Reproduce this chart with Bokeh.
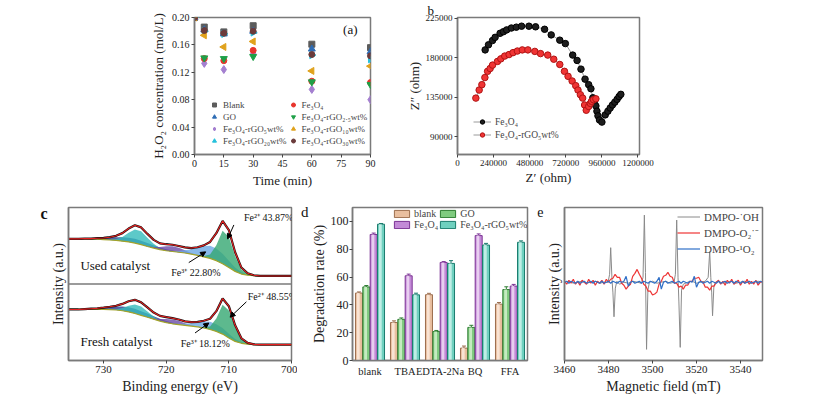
import numpy as np
from bokeh.plotting import figure
from bokeh.layouts import row, column
from bokeh.models import (Range1d, FactorRange, FixedTicker, NumeralTickFormatter, Legend, LegendItem,
                          Label, Arrow, NormalHead, Span, Whisker, TeeHead, ColumnDataSource,
                          LinearAxis, Title)
from bokeh.transform import dodge
from bokeh.embed import file_html
from bokeh.resources import INLINE

FONT = "Liberation Serif"

# ---------------- panel a data ----------------
times = [0, 5, 15, 30, 60, 90]
h_blank = [0.200, 0.186, 0.179, 0.188, 0.161, 0.156]
h_go = [0.200, 0.182, 0.176, 0.180, 0.154, 0.150]
h_rgo5 = [0.200, 0.133, 0.124, 0.147, 0.095, 0.080]
h_fe3o4 = [0.200, 0.140, 0.137, 0.152, 0.107, 0.105]
h_rgo25 = [0.200, 0.141, 0.140, 0.143, 0.106, 0.102]
h_rgo10 = [0.200, 0.174, 0.157, 0.165, 0.122, 0.129]
h_rgo20 = [0.200, 0.180, 0.176, 0.178, 0.145, 0.139]
h_rgo30 = [0.200, 0.181, 0.177, 0.180, 0.146, 0.144]
a_x_ticks = [0, 15, 30, 45, 60, 75, 90]
a_y_ticks = [0.00, 0.04, 0.08, 0.12, 0.16, 0.20]

# ---------------- panel b data ----------------
fe_zr = [183800, 206000, 232700, 250000, 283000, 305000, 327000, 358000, 391000, 426000, 475000,
         519000, 579000, 623000, 680000, 717000, 766000, 795000, 821000, 848000, 872000, 887000,
         900000, 909000, 920000, 927000, 934000, 944000, 960000, 982000, 1000000, 1015000, 1030000,
         1046000, 1061000, 1074000, 1086000]
fe_zi = [189100, 194900, 199800, 203400, 208000, 209800, 211900, 214000, 215000, 216100, 216100,
         215400, 212600, 206200, 200200, 196300, 183200, 177100, 167200, 155800, 149500, 144900,
         134600, 130000, 125300, 119300, 114000, 109300, 106900, 115100, 119300, 122900, 126400,
         129600, 132800, 136000, 138500]
rgo_zr = [122000, 144000, 162000, 182000, 200000, 217000, 233000, 266000, 288000, 314000, 343000,
          369000, 398000, 431000, 468000, 514000, 552000, 600000, 640000, 680000, 711000, 735000,
          762000, 786000, 801000, 817000, 832000, 845000, 856000, 872000, 883000, 891000, 904000, 920000]
rgo_zi = [134200, 143400, 149500, 157600, 164700, 167900, 171800, 176000, 178900, 182100, 183800,
          186000, 187800, 189100, 189100, 187400, 184900, 183200, 178500, 172500, 164700, 159000,
          153700, 148400, 143400, 138100, 134200, 126400, 120400, 124700, 128200, 130600, 132400, 133400]
b_x_ticks = [0, 240000, 480000, 720000, 960000, 1200000]
b_y_ticks = [90000, 135000, 180000, 225000]

# ---------------- panel c data (XPS, energies 736 -> 700 eV) ----------------
energy = [736, 735, 734, 733, 732, 731, 730, 729, 728, 727, 726, 725, 724, 723, 722, 721, 720, 719,
          718, 717, 716, 715, 714, 713, 712, 711, 710, 709, 708, 707, 706, 705, 704, 703, 702, 701, 700]
used_base = [0.59, 0.59, 0.59, 0.59, 0.585, 0.585, 0.58, 0.575, 0.57, 0.56, 0.55, 0.535, 0.515, 0.49,
             0.47, 0.45, 0.435, 0.425, 0.415, 0.405, 0.39, 0.375, 0.355, 0.335, 0.305, 0.265, 0.215,
             0.165, 0.13, 0.115, 0.108, 0.105, 0.105, 0.105, 0.105, 0.105, 0.105]
used_navy = [0, 0, 0, 0.004, 0.008, 0.014, 0.022, 0.032, 0.042, 0.05, 0.055, 0.055, 0.05, 0.045, 0.037,
             0.028, 0.02, 0.013, 0.007, 0.003, 0, 0, 0, 0, 0, 0, 0, 0, 0, 0, 0, 0, 0, 0, 0, 0, 0]
used_teal = [0, 0, 0, 0, 0, 0, 0, 0.005, 0.018, 0.055, 0.12, 0.178, 0.175, 0.115, 0.055, 0.018, 0.005,
             0, 0, 0, 0, 0, 0, 0, 0, 0, 0, 0, 0, 0, 0, 0, 0, 0, 0, 0, 0]
used_purple = [0, 0, 0, 0, 0, 0, 0, 0, 0, 0, 0, 0, 0, 0.005, 0.015, 0.035, 0.06, 0.07, 0.06, 0.035,
               0.015, 0.005, 0, 0, 0, 0, 0, 0, 0, 0, 0, 0, 0, 0, 0, 0, 0]
used_blue = [0, 0, 0, 0, 0, 0, 0, 0, 0, 0, 0, 0, 0, 0, 0, 0, 0, 0.005, 0.015, 0.035, 0.065, 0.1, 0.14,
             0.165, 0.16, 0.13, 0.09, 0.05, 0.025, 0.01, 0.003, 0, 0, 0, 0, 0, 0]
used_green = [0, 0, 0, 0, 0, 0, 0, 0, 0, 0, 0, 0, 0, 0, 0, 0, 0, 0, 0, 0, 0, 0, 0.01, 0.05, 0.2, 0.43,
              0.4, 0.2, 0.06, 0.015, 0.003, 0, 0, 0, 0, 0, 0]
fresh_base = [0.667, 0.667, 0.667, 0.667, 0.667, 0.667, 0.667, 0.665, 0.66, 0.65, 0.635, 0.615, 0.59,
              0.565, 0.54, 0.515, 0.495, 0.48, 0.47, 0.46, 0.45, 0.44, 0.425, 0.405, 0.38, 0.345, 0.295,
              0.25, 0.225, 0.213, 0.208, 0.207, 0.207, 0.207, 0.207, 0.207, 0.207]
fresh_navy = [0, 0, 0, 0.005, 0.01, 0.015, 0.025, 0.035, 0.045, 0.055, 0.06, 0.06, 0.055, 0.05, 0.04,
              0.03, 0.022, 0.015, 0.008, 0.003, 0, 0, 0, 0, 0, 0, 0, 0, 0, 0, 0, 0, 0, 0, 0, 0, 0]
fresh_teal = [0, 0, 0, 0, 0, 0, 0, 0.003, 0.01, 0.035, 0.08, 0.118, 0.115, 0.075, 0.035, 0.01, 0.003,
              0, 0, 0, 0, 0, 0, 0, 0, 0, 0, 0, 0, 0, 0, 0, 0, 0, 0, 0, 0]
fresh_purple = [0, 0, 0, 0, 0, 0, 0, 0, 0, 0, 0, 0, 0, 0.004, 0.012, 0.028, 0.048, 0.055, 0.048, 0.028,
                0.012, 0.004, 0, 0, 0, 0, 0, 0, 0, 0, 0, 0, 0, 0, 0, 0, 0]
fresh_blue = [0, 0, 0, 0, 0, 0, 0, 0, 0, 0, 0, 0, 0, 0, 0, 0, 0, 0.003, 0.01, 0.02, 0.04, 0.06, 0.085,
              0.1, 0.095, 0.08, 0.055, 0.03, 0.015, 0.005, 0, 0, 0, 0, 0, 0, 0]
fresh_green = [0, 0, 0, 0, 0, 0, 0, 0, 0, 0, 0, 0, 0, 0, 0, 0, 0, 0, 0, 0, 0, 0, 0.01, 0.04, 0.17, 0.385,
               0.36, 0.18, 0.05, 0.012, 0.003, 0, 0, 0, 0, 0, 0]
c_x_ticks = [730, 720, 710, 700]

# ---------------- panel d data ----------------
scavengers = ["blank", "TBA", "EDTA-2Na", "BQ", "FFA"]
deg_blank = [48.5, 27.3, 47.3, 8.9, 40.5]
deg_go = [52.9, 29.6, 20.8, 23.8, 51.0]
deg_fe3o4 = [90.6, 60.9, 70.5, 89.8, 53.5]
deg_rgo = [98.0, 47.2, 69.8, 83.0, 85.0]
err_blank = [0.8, 1.2, 1.0, 1.5, 1.2]
err_go = [1.0, 1.0, 0.8, 1.5, 2.0]
err_fe3o4 = [1.0, 1.2, 0.6, 1.2, 1.2]
err_rgo = [0.5, 1.2, 2.0, 1.2, 1.0]
d_y_ticks = [0, 20, 40, 60, 80, 100]

# ---------------- panel e data (EPR) ----------------
field = list(range(3460, 3551))
epr_o2 = [1, -2, 2, -1, 3, -2, 1, -3, 2, 0, -2, 3, -1, 2, -3, 1, -1, 2, -2, 3, 0,
          3, 4, 8, 5, 5, -1, -3, -7, -4, -2, 6, 9, 13, 8, 4, -2, -4, -9, -9, -13, -12, -10, -2, 1,
          6, 7, 10, 6, 5, -1, -1, -5, -4, -7, -3, -3, 1, 1, 4, 4, 5, 1, 0, -5, -5, -8, -4, -4, 0,
          2, -2, 1, -3, 2, -1, 3, -2, 0, 2, -3, 1, -1, 3, -2, 1, -2, 2, -3, 0, 1]
epr_1o2 = [0, 1, -1, 1, 0, -1, 1, -1, 0, 1, -1, 0, 1, -1, 1, 0, -1, 1, -1, 0, 1, -1, 1, 0, -1, 1, 0,
           1, 6, -4, 0,
           1, -1, 0, 1, -1, 1, 0, -1, 1, 0, -1, 1,
           5, -7, 0,
           1, -1, 0, 1, -1, 0, 1, -1, 1, 0, -1, 1, 0,
           6, -5, 0,
           1, -1, 0, 1, -1, 1, 0, -1, 1, -1, 0, 1, -1, 0, 1, -1, 1, 0, -1, 1, -1, 0, 1, -1, 0, 1, -1, 1, 0]
oh_field = [3460, 3462, 3464, 3466, 3468, 3470, 3472, 3474, 3476, 3478,
            3479.8, 3480.5, 3481.0, 3481.6, 3482.0, 3482.5, 3483.1, 3483.8,
            3485, 3487, 3489, 3491, 3493, 3495,
            3495.7, 3496.3, 3496.8, 3497.3, 3497.9, 3498.6,
            3500, 3502, 3504, 3506, 3508,
            3509.8, 3510.4, 3511.0, 3511.6, 3512.0, 3512.6, 3513.2,
            3514, 3516, 3518, 3520, 3522, 3524,
            3525.3, 3526.0, 3526.5, 3526.9, 3527.3, 3527.9, 3528.6,
            3530, 3532, 3534, 3536, 3538, 3540, 3542, 3544, 3546, 3548, 3550]
epr_oh = [0, 1, -1, 0, 1, -1, 0, 1, -1, 0,
          0, 8, 35, 2, -10, -35, -6, 1,
          -2, 0, -1, 1, 0, -1,
          5, 68, 10, -68, -8, 0,
          1, -1, 0, 1, -1,
          0, 8, 63, 5, -20, -66, -8,
          -2, 0, 1, -1, 0, 1,
          5, 31, 5, -10, -34, -4, 0,
          1, -1, 0, 1, -1, 0, 1, -1, 0, 1, 0]
e_x_ticks = [3460, 3480, 3500, 3520, 3540]


def style(p, tick_size="10px", label_size="13px"):
    p.outline_line_color = "#7a7a7a"
    p.outline_line_width = 1.5
    p.outline_line_alpha = 1
    p.grid.visible = False
    p.background_fill_color = "white"
    p.border_fill_color = "white"
    for ax in p.axis:
        ax.axis_line_color = "#7a7a7a"
        ax.axis_line_width = 1.5
        ax.major_tick_line_color = "#444"
        ax.major_tick_in = 0
        ax.major_tick_out = 3
        ax.minor_tick_line_color = None
        ax.major_label_text_font = FONT
        ax.major_label_text_font_size = tick_size
        ax.major_label_text_color = "#222"
        ax.axis_label_text_font = FONT
        ax.axis_label_text_font_size = label_size
        ax.axis_label_text_font_style = "normal"
        ax.axis_label_text_color = "#222"
        ax.major_label_standoff = 2
        ax.axis_label_standoff = 3


def letter_axis(p, text, yval, size="15px", bold=False):
    # panel letter drawn as the single tick label of an extra, bare left axis
    ax = LinearAxis(ticker=FixedTicker(ticks=[yval]), major_label_overrides={yval: text},
                    axis_line_color=None, major_tick_line_color=None, minor_tick_line_color=None,
                    major_tick_out=0, major_tick_in=0, major_label_standoff=0,
                    major_label_text_font=FONT, major_label_text_font_size=size,
                    major_label_text_font_style="bold" if bold else "normal",
                    major_label_text_color="#111")
    p.add_layout(ax, "left")


# ================= panel a =================
pa = figure(width=400, height=196, x_range=Range1d(0, 90), y_range=Range1d(0, 0.2),
            min_border_left=194, min_border_right=30, min_border_top=12, min_border_bottom=42,
            output_backend="svg", toolbar_location=None)
style(pa, "10px", "13px")
pa.xaxis.ticker = FixedTicker(ticks=a_x_ticks)
pa.yaxis.ticker = FixedTicker(ticks=a_y_ticks)
pa.yaxis.formatter = NumeralTickFormatter(format="0.00")
pa.xaxis.axis_label = "Time (min)"
pa.yaxis.axis_label = "H\u2082O\u2082 concentration (mol/L)"

# order: legend fills column by column (col 1 then col 2)
a_series = [
    ("Blank", h_blank, "square", "#5c5c5c", 0, 6),
    ("GO", h_go, "triangle", "#2f6db5", 0, 7),
    ("Fe\u2083O\u2084-rGO\u2085wt%", h_rgo5, "diamond", "#a47fd0", 0, 8),
    ("Fe\u2083O\u2084-rGO\u2082\u2080wt%", h_rgo20, "triangle", "#26c1dc", -np.pi / 2, 7),
    ("Fe\u2083O\u2084", h_fe3o4, "circle", "#e8342c", 0, 6),
    ("Fe\u2083O\u2084-rGO\u2082.\u2085wt%", h_rgo25, "inverted_triangle", "#1fa048", 0, 7),
    ("Fe\u2083O\u2084-rGO\u2081\u2080wt%", h_rgo10, "triangle", "#e0a21c", np.pi / 2, 7),
    ("Fe\u2083O\u2084-rGO\u2083\u2080wt%", h_rgo30, "circle", "#6b3b3b", 0, 6),
]
items_a = []
for name, vals, mk, col, ang, sz in a_series:
    r = pa.scatter(times, vals, marker=mk, size=sz, fill_color=col, line_color=col, angle=ang)
    items_a.append(LegendItem(label=name, renderers=[r]))
leg_a = Legend(items=items_a, ncols=2, location=(15, 8), label_text_font=FONT,
               label_text_font_size="9px", label_height=11, glyph_height=11, glyph_width=10,
               spacing=1, padding=1, margin=0, label_standoff=4, border_line_color=None,
               background_fill_alpha=0)
pa.add_layout(leg_a)
pa.add_layout(Label(x=76, y=0.182, text="(a)", text_font=FONT, text_font_size="13px",
                    text_baseline="middle", text_color="#111"))

# ================= panel b =================
pb = figure(width=418, height=196, x_range=Range1d(0, 1210000), y_range=Range1d(70000, 226000),
            min_border_left=57, min_border_right=179, min_border_top=13, min_border_bottom=36,
            output_backend="svg", toolbar_location=None)
style(pb, "9px", "13px")
pb.xaxis.ticker = FixedTicker(ticks=b_x_ticks)
pb.yaxis.ticker = FixedTicker(ticks=b_y_ticks)
pb.xaxis.formatter = NumeralTickFormatter(format="0")
pb.yaxis.formatter = NumeralTickFormatter(format="0")
pb.xaxis.axis_label = "Z\u2032 (ohm)"
pb.yaxis.axis_label = "Z\u2033 (ohm)"
pb.yaxis.axis_label_standoff = 1
pb.xaxis.axis_label_standoff = 1
l1 = pb.line(fe_zr, fe_zi, line_color="#9a9a9a", line_width=1)
s1 = pb.scatter(fe_zr, fe_zi, size=6.5, fill_color="#1e1e1e", line_color="#000000")
l2 = pb.line(rgo_zr, rgo_zi, line_color="#9a9a9a", line_width=1)
s2 = pb.scatter(rgo_zr, rgo_zi, size=6.5, fill_color="#f03434", line_color="#b01414")
leg_b = Legend(items=[LegendItem(label="Fe\u2083O\u2084", renderers=[l1, s1]),
                      LegendItem(label="Fe\u2083O\u2084-rGO\u2085wt%", renderers=[l2, s2])],
               location=(16, 14), label_text_font=FONT, label_text_font_size="9.5px",
               label_height=11, glyph_height=11, glyph_width=18, spacing=2, padding=1, margin=0,
               label_standoff=4, border_line_color=None, background_fill_alpha=0)
pb.add_layout(leg_b)
pb.add_layout(Title(text="b", align="left", offset=-30, standoff=0, text_font=FONT,
                    text_font_size="13px", text_font_style="normal", text_color="#111"), "above")

# ================= panel c =================
pc = figure(width=297, height=200, x_range=Range1d(735.6, 700), y_range=Range1d(0, 2),
            min_border_left=68, min_border_right=6, min_border_top=11, min_border_bottom=36,
            output_backend="svg", toolbar_location=None)
style(pc, "11px", "14px")
pc.xaxis.ticker = FixedTicker(ticks=c_x_ticks)
pc.yaxis.ticker = FixedTicker(ticks=[])
pc.xaxis.axis_label = "Binding energy (eV)"
pc.yaxis.axis_label = "Intensity (a.u.)"

E = np.array(energy)
comp_colors = ["#2b3a8f", "#35bcbc", "#6b4ba8", "#6aa8e4", "#34a872"]
for off, base, comps in [(1.0, used_base, [used_navy, used_teal, used_purple, used_blue, used_green]),
                         (0.0, fresh_base, [fresh_navy, fresh_teal, fresh_purple, fresh_blue, fresh_green])]:
    b = np.array(base) + off
    env = b.copy()
    for comp, col in zip(comps, comp_colors):
        c = np.array(comp)
        pc.varea(x=E, y1=b, y2=b + c, fill_color=col, fill_alpha=0.8)
        env = env + c
    pc.line(E, b, line_color="#a3a32a", line_width=1.2)
    pc.line(E, env, line_color="#111111", line_width=2.2)
    pc.line(E, env, line_color="#e82020", line_width=1.1)
pc.add_layout(Span(location=1, dimension="width", line_color="#7a7a7a", line_width=1.5))

c_text = dict(text_font=FONT, text_color="#111", text_baseline="middle", level="overlay")
pc.add_layout(Label(x=733.7, y=1.237, text="Used catalyst", text_font_size="13px", **c_text))
pc.add_layout(Label(x=733.7, y=0.25, text="Fresh catalyst", text_font_size="13px", **c_text))
pc.add_layout(Label(x=707.6, y=1.868, text="Fe\u00b2\u207a 43.87%", text_font_size="10px", **c_text))
pc.add_layout(Label(x=719.2, y=1.149, text="Fe\u00b3\u207a 22.80%", text_font_size="10px", **c_text))
pc.add_layout(Label(x=707.0, y=0.842, text="Fe\u00b2\u207a 48.55%", text_font_size="10px", **c_text))
pc.add_layout(Label(x=717.7, y=0.228, text="Fe\u00b3\u207a 18.12%", text_font_size="10px", **c_text))
for xs, ys, xe, ye in [(709.2, 1.772, 710.2, 1.59), (716.4, 1.28, 713.7, 1.42),
                       (707.2, 0.767, 709.8, 0.566), (715.4, 0.36, 713.2, 0.49)]:
    pc.add_layout(Arrow(end=NormalHead(size=5, fill_color="black", line_color="black"),
                        x_start=xs, y_start=ys, x_end=xe, y_end=ye, line_color="black", line_width=1))
letter_axis(pc, "c", 1.92, "16px", bold=True)

# ================= panel d =================
pd_ = figure(width=235, height=200, x_range=FactorRange(factors=scavengers), y_range=Range1d(0, 110),
             min_border_left=50, min_border_right=5, min_border_top=8, min_border_bottom=36,
             output_backend="svg", toolbar_location=None)
style(pd_, "12px", "14px")
pd_.xaxis.major_label_text_font_size = "10.5px"
pd_.yaxis.ticker = FixedTicker(ticks=d_y_ticks)
pd_.yaxis.major_label_standoff = 1
pd_.yaxis.axis_label_standoff = 1
pd_.xaxis.major_tick_line_color = None
pd_.yaxis.axis_label = "Degradation rate (%)"

src = ColumnDataSource(dict(cat=scavengers, blank=deg_blank, go=deg_go, fe=deg_fe3o4, rgo=deg_rgo,
                            blank_u=[v + e for v, e in zip(deg_blank, err_blank)],
                            go_u=[v + e for v, e in zip(deg_go, err_go)],
                            fe_u=[v + e for v, e in zip(deg_fe3o4, err_fe3o4)],
                            rgo_u=[v + e for v, e in zip(deg_rgo, err_rgo)]))
d_series = [("blank", "blank", -0.315, "#9c6e4e", "#e9bf9f", "#fbe7d8"),
            ("go", "GO", -0.105, "#2e7d32", "#7fcb7f", "#cdeec8"),
            ("fe", "Fe\u2083O\u2084", 0.105, "#7b3294", "#c38ad7", "#ecd5f3"),
            ("rgo", "Fe\u2083O\u2084-rGO\u2085wt%", 0.315, "#1b7c6e", "#6fd0bf", "#c8f1e9")]
items_d = {}
for key, name, off, edge, mid, light in d_series:
    r = pd_.vbar(x=dodge("cat", off, range=pd_.x_range), top=key, width=0.2, source=src,
                 fill_color=mid, line_color=edge, line_width=1)
    pd_.vbar(x=dodge("cat", off - 0.02, range=pd_.x_range), top=key, width=0.08, source=src,
             fill_color=light, line_color=None, fill_alpha=0.9)
    pd_.add_layout(Whisker(source=src, base=dodge("cat", off, range=pd_.x_range), upper=key + "_u",
                           lower=key, line_color=edge, line_width=1,
                           upper_head=TeeHead(size=4, line_color=edge), lower_head=None))
    items_d[key] = LegendItem(label=name, renderers=[r])
# column-major fill: row 1 = blank, GO ; row 2 = Fe3O4, Fe3O4-rGO
leg_d = Legend(items=[items_d["blank"], items_d["fe"], items_d["go"], items_d["rgo"]], ncols=2,
               location=(40, 130), label_text_font=FONT, label_text_font_size="10px",
               label_height=10, glyph_height=9, glyph_width=19, spacing=0, padding=1, margin=0,
               label_standoff=3, border_line_color=None, background_fill_alpha=0)
pd_.add_layout(leg_d)
letter_axis(pd_, "d", 107, "15px")

# ================= panel e =================
pe = figure(width=286, height=200, x_range=Range1d(3460, 3550), y_range=Range1d(-79.3, 75.7),
            min_border_left=32, min_border_right=56, min_border_top=9, min_border_bottom=36,
            output_backend="svg", toolbar_location=None)
style(pe, "11px", "14px")
pe.xaxis.ticker = FixedTicker(ticks=e_x_ticks)
pe.yaxis.ticker = FixedTicker(ticks=[])
pe.xaxis.axis_label = "Magnetic field (mT)"
pe.yaxis.axis_label = "Intensity (a.u.)"
re1 = pe.line(oh_field, epr_oh, line_color="#8a8a8a", line_width=1)
re2 = pe.line(field, epr_o2, line_color="#ee3535", line_width=1.2)
re3 = pe.line(field, epr_1o2, line_color="#3070c8", line_width=1.2)
leg_e = Legend(items=[LegendItem(label="DMPO-\u02d9OH", renderers=[re1]),
                      LegendItem(label="DMPO-O\u2082\u02d9\u207b", renderers=[re2]),
                      LegendItem(label="DMPO-\u00b9O\u2082", renderers=[re3])],
               location="top_right", label_text_font=FONT, label_text_font_size="11px",
               label_height=13, glyph_height=13, glyph_width=23, spacing=2, padding=2, margin=3,
               label_standoff=4, border_line_color=None, background_fill_alpha=0)
pe.add_layout(leg_e)
letter_axis(pe, "e", 71, "14px")

layout = column(row(pa, pb), row(pc, pd_, pe))
open("out.html", "w").write(file_html(layout, INLINE))
